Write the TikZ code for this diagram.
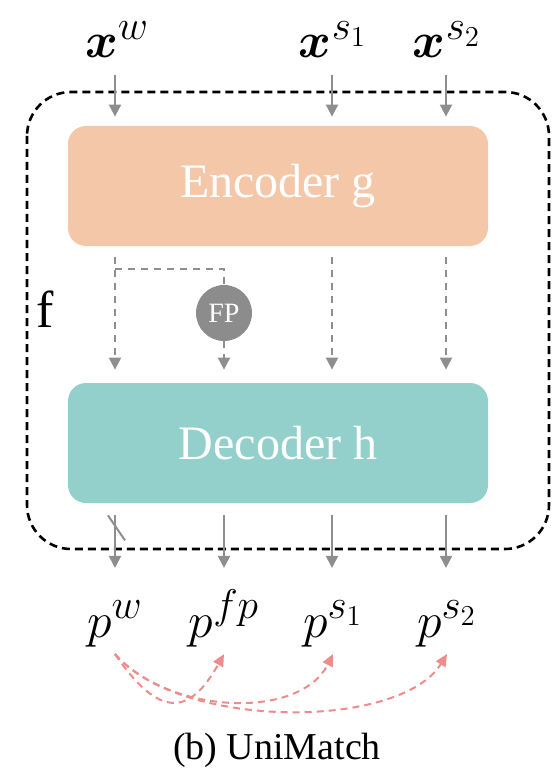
\documentclass[tikz,border=0pt]{standalone}
\usepackage{amsmath}
\usepackage{fontspec}
\setmainfont{Liberation Serif}
\usetikzlibrary{arrows.meta,positioning,calc}
\definecolor{encfill}{HTML}{F5C7A9}
\definecolor{decfill}{HTML}{93D0CB}
\definecolor{flowgray}{HTML}{8E8E8E}
\definecolor{fpgray}{HTML}{8C8C8C}
\definecolor{pairred}{HTML}{EE8C8C}

\begin{document}
\begin{tikzpicture}[x=0.5pt,y=-0.5pt,
    block/.style={rounded corners=9pt,minimum width=210pt,minimum height=60pt,
      inner sep=0pt,text=white,font=\fontsize{24}{28}\selectfont},
    flow/.style={draw=flowgray,line width=1pt,-{Triangle[width=6pt,length=6pt]}},
    dflow/.style={flow,dash pattern=on 3.5pt off 3pt},
    pair/.style={draw=pairred,line width=1pt,dash pattern=on 3.5pt off 2.5pt,
      -{Triangle[width=5.5pt,length=6pt]}},
    var/.style={anchor=base,text height=20pt,text depth=5pt,font=\fontsize{29.5}{34}\selectfont}]
  \useasboundingbox (0,0) rectangle (552,770);
  %colonnes
  \coordinate (cw) at (115,0);
  \coordinate (cfp) at (224,0);
  \coordinate (cs1) at (332,0);
  \coordinate (cs2) at (446,0);
  %cadre f
  \draw[line width=1.3pt,dash pattern=on 4pt off 2.5pt,rounded corners=22pt]
    (27,92) rectangle (549,549);
  \node[font=\fontsize{26}{30}\selectfont] (flabel) at (45,309) {f};
  %encodeur et decodeur
  \node[block,fill=encfill] (enc) at (278,186) {Encoder g};
  \node[block,fill=decfill] (dec) at (278,443) {Decoder h};
  \node[circle,fill=fpgray,minimum size=28pt,inner sep=0pt,text=white,
    font=\fontsize{14}{16}\selectfont] (fp) at (224,313) {FP};
  %entrees
  \node[var] (xw) at (117,58) {$\boldsymbol{x}^{w}$};
  \node[var] (xs1) at (333,58) {$\boldsymbol{x}^{s_1}$};
  \node[var] (xs2) at (447,58) {$\boldsymbol{x}^{s_2}$};
  \draw[flow,shorten >=4.5pt] (cw |- xw.south) -- (cw |- enc.north);
  \draw[flow,shorten >=4.5pt] (cs1 |- xs1.south) -- (cs1 |- enc.north);
  \draw[flow,shorten >=4.5pt] (cs2 |- xs2.south) -- (cs2 |- enc.north);
  %sorties
  \node[var] (pw) at (115,637) {$p^{w}$};
  \node[var] (pfp) at (224,637) {$p^{fp}$};
  \node[var] (ps1) at (333,637) {$p^{s_1}$};
  \node[var] (ps2) at (447,637) {$p^{s_2}$};
  %encodeur -> decodeur
  \coordinate (split) at ($(cw |- enc.south)+(0,23)$);
  \draw[dflow,shorten <=5.5pt,shorten >=6.5pt] (cw |- enc.south) -- (cw |- dec.north);
  \draw[draw=flowgray,line width=1pt,dash pattern=on 3.5pt off 3pt] (split) -| (fp.north);
  \draw[dflow,shorten >=6.5pt] (fp.south) -- (cfp |- dec.north);
  \draw[dflow,shorten <=5.5pt,shorten >=6.5pt] (cs1 |- enc.south) -- (cs1 |- dec.north);
  \draw[dflow,shorten <=5.5pt,shorten >=6.5pt] (cs2 |- enc.south) -- (cs2 |- dec.north);
  %decodeur -> predictions
  \draw[flow,shorten <=6pt,shorten >=11pt] (cw |- dec.south) -- (cw |- pw.north);
  \draw[flow,shorten <=6pt,shorten >=11pt] (cfp |- dec.south) -- (cfp |- pfp.north);
  \draw[flow,shorten <=6pt,shorten >=11pt] (cs1 |- dec.south) -- (cs1 |- ps1.north);
  \draw[flow,shorten <=6pt,shorten >=11pt] (cs2 |- dec.south) -- (cs2 |- ps2.north);
  \draw[draw=flowgray,line width=1pt] ($(cw |- dec.south)+(-7,12)$) -- ++(17,25);
  %supervision
  \draw[pair] (pw.south) .. controls (160,720) and (190,715) .. (pfp.south);
  \draw[pair] (pw.south) .. controls (170,715) and (300,720) .. (ps1.south);
  \draw[pair] (pw.south) .. controls (180,730) and (400,730) .. (ps2.south);
  \node[font=\fontsize{19}{22}\selectfont] (caption) at (277,750) {(b) UniMatch};
\end{tikzpicture}
\end{document}
